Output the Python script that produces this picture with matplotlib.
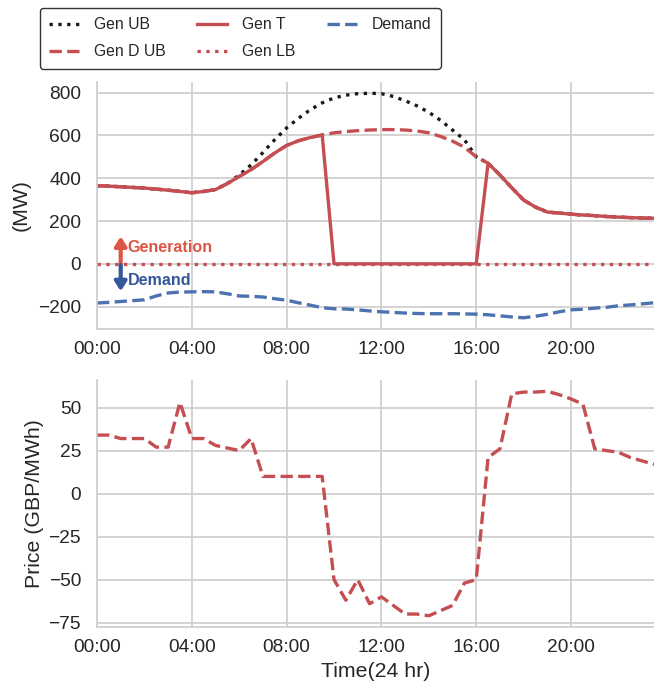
import numpy as np
import matplotlib
matplotlib.use("Agg")
import matplotlib.pyplot as plt
from matplotlib.ticker import FuncFormatter, MultipleLocator

# ---- data (half-hourly, hours 0..23.5) ----
hours = np.arange(0, 24, 0.5)

gen_t = [365, 363, 360, 357, 354, 349, 344, 338, 332, 338, 347, 375,
         408, 440, 478, 518, 553, 575, 590, 602, 0, 0, 0, 0,
         0, 0, 0, 0, 0, 0, 0, 0, 0, 470, 415, 355,
         298, 265, 242, 237, 232, 228, 225, 221, 218, 216, 214, 213]

gen_ub = [365, 363, 360, 357, 354, 349, 344, 338, 332, 338, 347, 375,
          415, 462, 520, 580, 635, 680, 720, 752, 775, 788, 795, 797,
          795, 782, 762, 738, 708, 670, 625, 580, 500, 470, 415, 355,
          298, 265, 242, 237, 232, 228, 225, 221, 218, 216, 214, 213]

gen_d_ub = [365, 363, 360, 357, 354, 349, 344, 338, 332, 338, 347, 375,
            408, 440, 478, 518, 553, 575, 590, 602, 612, 618, 622, 625,
            627, 627, 625, 621, 612, 595, 573, 545, 500, 470, 415, 355,
            298, 265, 242, 237, 232, 228, 225, 221, 218, 216, 214, 213]

gen_lb = [0] * 48

demand = [-183, -180, -176, -172, -168, -150, -136, -132, -131, -130, -131, -140,
          -150, -152, -155, -163, -170, -182, -193, -205, -210, -211, -215, -220,
          -224, -227, -230, -232, -233, -233, -233, -234, -235, -238, -243, -248,
          -252, -245, -236, -224, -215, -212, -207, -203, -196, -192, -187, -182]

price = [34, 34, 32, 32, 32, 27, 27, 53, 32, 32, 28, 26.5,
         25, 32, 10, 10, 10, 10, 10, 10, -50, -62, -50, -64,
         -60, -65, -70, -70, -71, -68, -65, -52, -50, 21, 26, 58,
         59, 59, 59.5, 57.5, 55, 52, 26, 25, 24, 21, 19, 17]

tick_hours = [0, 4, 8, 12, 16, 20]

# ---- style ----
plt.rcParams['font.family'] = ['Liberation Sans', 'DejaVu Sans']
plt.rcParams['axes.unicode_minus'] = True

RED = '#c44e52'
BLUE = '#4c72b0'
GRID = '#cccccc'
LW = 2.4

fig = plt.figure(figsize=(6.54, 6.91), dpi=100)
ax1 = fig.add_axes([97/654, 1 - 329/691, 1 - 97/654, (329 - 82)/691])
ax2 = fig.add_axes([97/654, 1 - 627/691, 1 - 97/654, (627 - 380)/691])

fmt = FuncFormatter(lambda h, pos: f"{int(round(h)):02d}:00")

for ax in (ax1, ax2):
    ax.set_facecolor('white')
    ax.grid(True, color=GRID, linewidth=1.2)
    ax.set_axisbelow(True)
    for s in ax.spines.values():
        s.set_color(GRID)
        s.set_linewidth(1.2)
    ax.spines['right'].set_visible(False)
    ax.spines['top'].set_visible(False)
    ax.tick_params(axis='both', length=0, labelsize=13.8, colors='#262626')
    ax.tick_params(axis='x', pad=9)
    ax.tick_params(axis='y', pad=11.5)
    ax.set_xticks(tick_hours)
    ax.xaxis.set_major_formatter(fmt)

l_ub, = ax1.plot(hours, gen_ub, color='#1a1a1a', linestyle=':', lw=LW, label='Gen UB')
l_dub, = ax1.plot(hours, gen_d_ub, color=RED, linestyle='--', lw=LW, label='Gen D UB')
l_t, = ax1.plot(hours, gen_t, color=RED, linestyle='-', lw=LW, label='Gen T')
l_lb, = ax1.plot(hours, gen_lb, color=RED, linestyle=':', lw=LW, label='Gen LB')
l_d, = ax1.plot(hours, demand, color=BLUE, linestyle='--', lw=LW, label='Demand')
ax1.set_xlim(0, 23.5)
ax1.yaxis.set_major_locator(MultipleLocator(200))
ax1.set_ylabel('(MW)', fontsize=15.3, color='#262626', labelpad=5)

# annotation arrows
ax1.annotate('', xy=(1.0, 128), xytext=(1.0, 4),
             arrowprops=dict(arrowstyle='-|>,head_width=0.35,head_length=0.55',
                             color='#dd5544', lw=3, shrinkA=0, shrinkB=0))
ax1.annotate('', xy=(1.0, -128), xytext=(1.0, -6),
             arrowprops=dict(arrowstyle='-|>,head_width=0.35,head_length=0.55',
                             color='#34569a', lw=3, shrinkA=0, shrinkB=0))
ax1.text(1.3, 76, 'Generation', color='#dd5544', fontsize=11.6,
         fontweight='bold', va='center', ha='left')
ax1.text(1.3, -78, 'Demand', color='#34569a', fontsize=11.6,
         fontweight='bold', va='center', ha='left')

ax2.plot(hours, price, color=RED, linestyle='--', lw=LW)
ax2.set_xlim(0, 23.5)
ax2.yaxis.set_major_locator(MultipleLocator(25))
ax2.set_ylabel('Price (GBP/MWh)', fontsize=15.3, color='#262626', labelpad=3)
ax2.set_xlabel('Time(24 hr)', fontsize=15.3, color='#262626', labelpad=4)

leg = fig.legend(handles=[l_ub, l_dub, l_t, l_lb, l_d], ncol=3,
                 loc='upper left', bbox_to_anchor=(40/654, 1 - 8/691),
                 fontsize=11.3, frameon=True, fancybox=True,
                 handlelength=1.9, handletextpad=0.95, columnspacing=2.0,
                 labelspacing=0.75, borderpad=0.6, borderaxespad=0)
leg.get_frame().set_edgecolor('black')
leg.get_frame().set_linewidth(1.0)
for t in leg.get_texts():
    t.set_color('#262626')

fig.savefig('out.png', dpi=100)
